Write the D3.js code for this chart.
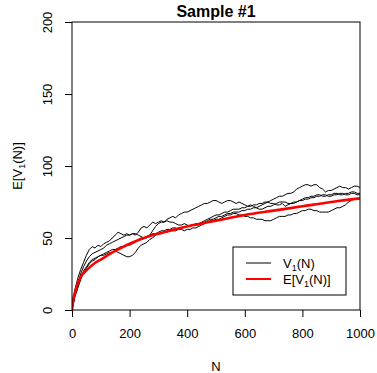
<!DOCTYPE html>
<html><head><meta charset="utf-8">
<script src="https://cdn.jsdelivr.net/npm/d3@7"></script>
<style>
html,body{margin:0;padding:0;background:#fff;}
svg{display:block;font-family:"Liberation Sans",Arial,Helvetica,sans-serif;}
</style></head>
<body>
<script>
const title = "Sample #1";
const xTicks = [0, 200, 400, 600, 800, 1000];
const yTicks = [0, 50, 100, 150, 200];
const stepN = 10;
const walk1 = [0,14,22,28,33,38,42,44,43,45,44,46,47,48,50,52,54,53,52,53,52,53,52,54,57,58,57,59,61,60,61,62,61,63,64,65,64,66,67,68,68,69,70,71,72,73,74,74,75,76,76,75,74,75,76,76,75,74,75,74,73,72,73,72,71,72,73,74,75,76,77,78,79,79,80,81,81,82,84,85,86,87,87,86,87,87,85,84,82,83,83,84,85,86,85,85,84,85,86,86,85];
const walk2 = [0,11,18,25,30,34,37,39,40,41,42,43,45,46,47,48,49,50,51,52,52,53,53,52,51,50,50,52,55,58,60,61,61,62,61,61,60,59,59,60,59,58,59,60,60,61,62,63,64,65,66,66,67,68,68,69,70,70,70,71,71,72,72,73,73,74,74,75,75,74,74,73,73,74,72,73,74,74,75,76,77,78,78,79,79,80,80,79,79,80,80,81,81,80,80,81,81,82,82,81,81];
const walk3 = [0,9,15,21,26,29,32,34,35,37,38,39,40,41,42,42,43,44,44,45,45,46,47,49,50,50,51,52,53,53,54,55,55,56,56,57,57,56,57,58,58,58,59,59,59,60,61,62,63,63,64,65,65,66,67,67,68,68,68,69,69,70,70,71,71,70,70,71,72,72,73,74,75,75,75,74,74,75,75,76,76,77,77,78,78,79,79,80,80,79,79,80,80,81,81,80,80,81,81,80,80];
const walk4 = [0,10,16,22,27,30,33,35,36,37,38,38,39,40,40,41,40,39,38,37,37,38,40,43,45,46,47,49,50,52,53,53,54,54,55,55,55,56,56,55,56,56,57,57,58,59,60,61,62,62,63,63,64,65,66,66,67,67,66,66,65,65,64,64,63,63,63,62,62,62,63,64,65,65,65,66,66,67,67,68,69,69,70,70,69,69,68,68,68,68,69,70,71,71,72,73,75,76,77,77,78];
const expN = [0,5,10,20,30,50,75,100,150,200,250,300,400,500,600,700,800,900,1000];
const expV = [0,8,12,18.5,23,27.5,32,35,41,46,50,53,58,62,66,69,72,75,77.5];

const W = 377, H = 373;
const L = 72, R = 360, T = 22, B = 310;
const svg = d3.select("body").append("svg").attr("width", W).attr("height", H);
const x = d3.scaleLinear().domain([0, 1000]).range([L, R]);
const y = d3.scaleLinear().domain([0, 200]).range([B, T]);

const walks = [walk1, walk2, walk3, walk4];
const line = d3.line().x(d => x(d[0])).y(d => y(d[1]));
const clip = svg.append("clipPath").attr("id","c").append("rect").attr("x",L).attr("y",T).attr("width",R-L).attr("height",B-T);
const g = svg.append("g").attr("clip-path","url(#c)");
walks.forEach(w => {
  g.append("path").datum(w.map((v,i)=>[i*stepN, v]))
   .attr("d", line).attr("fill","none").attr("stroke","#000").attr("stroke-width",1);
});
g.append("path").datum(expN.map((n,i)=>[n, expV[i]]))
  .attr("d", line.curve(d3.curveMonotoneX)).attr("fill","none").attr("stroke","#ff0000").attr("stroke-width",2.6);

// box
svg.append("rect").attr("x",L).attr("y",T).attr("width",R-L).attr("height",B-T)
  .attr("fill","none").attr("stroke","#000").attr("stroke-width",1);

// axes
const xa = svg.append("g").attr("transform",`translate(0,${B})`)
  .call(d3.axisBottom(x).tickValues(xTicks).tickSize(7).tickPadding(0).tickFormat(d3.format("d")));
xa.select(".domain").remove();
xa.selectAll("text").attr("font-size",13).attr("font-family","Liberation Sans, Arial, sans-serif").attr("dy",null).attr("y",28).attr("fill","#000");
const ya = svg.append("g").attr("transform",`translate(${L},0)`)
  .call(d3.axisLeft(y).tickValues(yTicks).tickSize(7).tickFormat(d3.format("d")));
ya.select(".domain").remove();
ya.selectAll("text").attr("font-size",13).attr("font-family","Liberation Sans, Arial, sans-serif")
  .attr("x",null).attr("dy",null).attr("text-anchor","middle").attr("fill","#000")
  .attr("transform", "translate(-20,0) rotate(-90)").attr("y",0);
ya.selectAll(".tick").each(function(d){
  d3.select(this).select("text").attr("transform", `translate(-20,0) rotate(-90)`);
});

// titles
svg.append("text").attr("x",(L+R)/2).attr("y",17).attr("text-anchor","middle")
  .attr("font-size",16).attr("font-weight","bold").text(title);
svg.append("text").attr("x",(L+R)/2).attr("y",371).attr("text-anchor","middle")
  .attr("font-size",13).text("N");
const yl = svg.append("text").attr("transform",`translate(22,${(T+B)/2}) rotate(-90)`)
  .attr("text-anchor","middle").attr("font-size",13);
yl.append("tspan").text("E[V");
yl.append("tspan").attr("font-size",9).attr("dy",3).text("1");
yl.append("tspan").attr("dy",-3).text("(N)]");

// legend
const lg = svg.append("g");
lg.append("rect").attr("x",233).attr("y",247).attr("width",113).attr("height",48)
  .attr("fill","#fff").attr("stroke","#000").attr("stroke-width",1);
lg.append("line").attr("x1",246).attr("x2",271).attr("y1",263).attr("y2",263).attr("stroke","#000").attr("stroke-width",1);
lg.append("line").attr("x1",246).attr("x2",271).attr("y1",279).attr("y2",279).attr("stroke","#ff0000").attr("stroke-width",2);
const t1 = lg.append("text").attr("x",283).attr("y",268).attr("font-size",13);
t1.append("tspan").text("V");
t1.append("tspan").attr("font-size",9).attr("dy",3).text("1");
t1.append("tspan").attr("dy",-3).text("(N)");
const t2 = lg.append("text").attr("x",283).attr("y",284).attr("font-size",13);
t2.append("tspan").text("E[V");
t2.append("tspan").attr("font-size",9).attr("dy",3).text("1");
t2.append("tspan").attr("dy",-3).text("(N)]");
</script>
</body></html>
